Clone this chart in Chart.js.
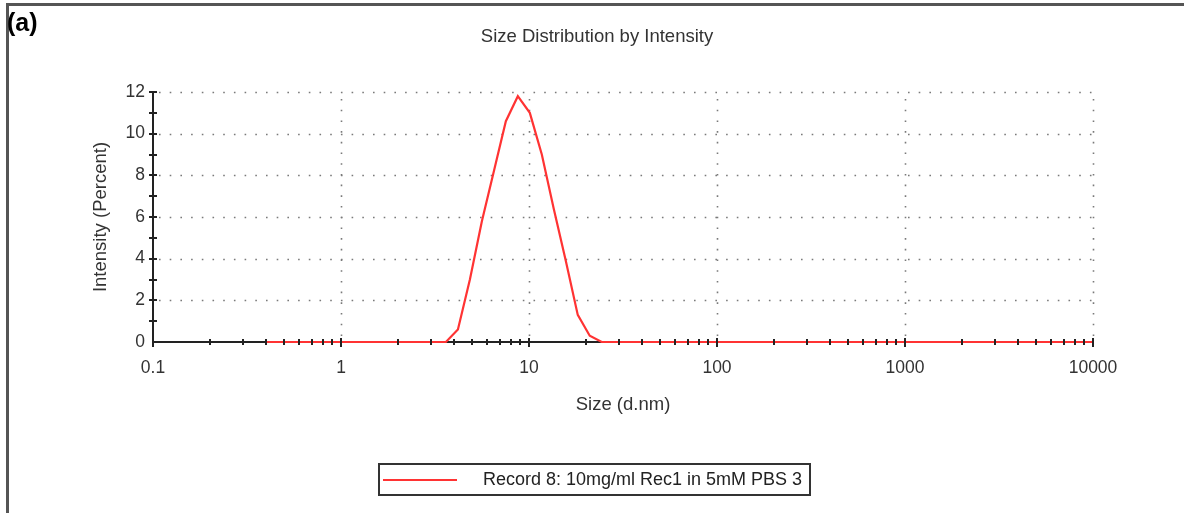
<!DOCTYPE html>
<html>
<head>
<meta charset="utf-8">
<script src="https://cdn.jsdelivr.net/npm/chart.js@4.4.1/dist/chart.umd.min.js"></script>
<style>
  body { margin: 0; background: #fff; }
  #wrap { position: relative; width: 1184px; height: 513px; overflow: hidden; }
  #frame { position: absolute; left: 6px; top: 3px; width: 1190px; height: 508px;
           border-left: 3px solid #555; border-top: 3px solid #555; border-bottom: 1px solid #e4e4e4; }
  #panel { position: absolute; left: 7px; top: 8px; font: bold 25px "Liberation Sans", Arial, sans-serif; color: #000; }
  #legend { position: absolute; left: 378px; top: 463px; width: 429px; height: 29px;
            border: 2px solid #333; font: 18px "Liberation Sans", Arial, sans-serif; color: #222; }
  #legend .swatch { position: absolute; left: 3px; top: 14px; width: 74px; height: 2px; background: #ff3333; }
  #legend .label { position: absolute; left: 103px; top: 4px; white-space: nowrap; }
  canvas { position: absolute; left: 0; top: 0; }
</style>
</head>
<body>
<div id="wrap">
  <div id="frame"></div>
  <canvas id="dls_chart" width="1184" height="513"></canvas>
  <div id="panel">(a)</div>
  <div id="legend"><div class="swatch"></div><div class="label" id="legendLabel"></div></div>
</div>
<script>
// data
const seriesLabel = 'Record 8: 10mg/ml Rec1 in 5mM PBS 3';
const sizes = [0.4, 3.615, 4.187, 4.849, 5.615, 6.503, 7.531, 8.721, 10.10, 11.70, 13.54, 15.69, 18.17, 21.04, 24.36, 10000];
const intensity = [0, 0, 0.6, 3.0, 5.8, 8.2, 10.6, 11.8, 11.0, 9.0, 6.4, 3.9, 1.3, 0.3, 0, 0];

const decades = [0.1, 1, 10, 100, 1000, 10000];
const xTickLabels = ['0.1', '1', '10', '100', '1000', '10000'];
const minorSteps = [2, 3, 4, 5, 6, 7, 8, 9];
const yTicks = [0, 2, 4, 6, 8, 10, 12];

document.getElementById('legendLabel').textContent = seriesLabel;

const isDecade = v => decades.some(d => Math.abs(d - v) / d < 1e-6);

// dotted grid + solid axes drawn before the line, tick marks after it
const axesPlugin = {
  id: 'dlsAxes',
  beforeDatasetsDraw(chart) {
    const {ctx, scales: {x, y}} = chart;
    ctx.save();
    ctx.strokeStyle = '#7a7a7a';
    ctx.lineWidth = 1.6;
    ctx.setLineDash([1.6, 9.1]);
    yTicks.filter(v => v > 0).forEach(v => {
      const py = Math.round(y.getPixelForValue(v)) + 0.5;
      ctx.beginPath(); ctx.moveTo(x.left + 6, py); ctx.lineTo(x.right, py); ctx.stroke();
    });
    decades.slice(1).forEach(v => {
      const px = Math.round(x.getPixelForValue(v)) + 0.5;
      ctx.beginPath(); ctx.moveTo(px, y.bottom - 6); ctx.lineTo(px, y.top); ctx.stroke();
    });
    ctx.setLineDash([]);
    ctx.strokeStyle = '#222';
    ctx.lineWidth = 2;
    ctx.beginPath();
    ctx.moveTo(x.left, y.top - 1); ctx.lineTo(x.left, y.bottom);
    ctx.lineTo(x.right, y.bottom);
    ctx.stroke();
    ctx.restore();
  },
  afterDatasetsDraw(chart) {
    const {ctx, scales: {x, y}} = chart;
    ctx.save();
    ctx.strokeStyle = '#222';
    ctx.lineWidth = 2;
    x.ticks.forEach(t => {
      const px = Math.round(x.getPixelForValue(t.value));
      const major = isDecade(t.value);
      ctx.beginPath();
      ctx.moveTo(px, y.bottom - (major ? 4 : 3));
      ctx.lineTo(px, y.bottom + (major ? 5 : 3));
      ctx.stroke();
    });
    for (let v = 1; v <= 12; v++) {
      const py = Math.round(y.getPixelForValue(v));
      ctx.beginPath(); ctx.moveTo(x.left - 4, py); ctx.lineTo(x.left + 4, py); ctx.stroke();
    }
    ctx.restore();
  }
};

new Chart(document.getElementById('dls_chart').getContext('2d'), {
  type: 'line',
  data: {
    datasets: [{
      label: seriesLabel,
      data: sizes.map((s, i) => ({x: s, y: intensity[i]})),
      borderColor: '#ff3333',
      borderWidth: 2.2,
      pointRadius: 0,
      tension: 0,
      fill: false,
      clip: false
    }]
  },
  options: {
    responsive: false,
    animation: false,
    layout: { padding: { left: 101, right: 91, top: 0, bottom: 0 } },
    plugins: {
      legend: { display: false },
      tooltip: { enabled: false },
      title: {
        display: true,
        text: 'Size Distribution by Intensity',
        color: '#333',
        font: { family: 'Liberation Sans', size: 18.5, weight: 'normal' },
        padding: { top: 26, bottom: 43.8 }
      }
    },
    scales: {
      x: {
        type: 'logarithmic',
        min: 0.1,
        max: 10000,
        afterBuildTicks(scale) {
          const ticks = [];
          decades.forEach((d, i) => {
            ticks.push({value: d});
            if (i < decades.length - 1) minorSteps.forEach(m => ticks.push({value: +(d * m).toPrecision(6)}));
          });
          scale.ticks = ticks;
        },
        afterFit(scale) { scale.height = 171; },
        grid: { display: false, drawTicks: false },
        border: { display: false },
        ticks: {
          autoSkip: false,
          maxRotation: 0,
          padding: 16,
          color: '#333',
          font: { family: 'Liberation Sans', size: 17.5 },
          callback: (v) => {
            const i = decades.findIndex(d => Math.abs(d - v) / d < 1e-6);
            return i >= 0 ? xTickLabels[i] : '';
          }
        },
        title: {
          display: true,
          text: 'Size (d.nm)',
          color: '#333',
          font: { family: 'Liberation Sans', size: 18.5 },
          padding: { top: 0, bottom: 97 }
        }
      },
      y: {
        min: 0,
        max: 12,
        afterBuildTicks(scale) { scale.ticks = yTicks.map(v => ({value: v})); },
        afterFit(scale) { scale.width = 52; },
        grid: { display: false, drawTicks: false },
        border: { display: false },
        ticks: {
          autoSkip: false,
          padding: 8,
          color: '#333',
          font: { family: 'Liberation Sans', size: 17.5 }
        },
        title: {
          display: true,
          text: 'Intensity (Percent)',
          color: '#333',
          font: { family: 'Liberation Sans', size: 18.5 },
          padding: { top: -11, bottom: 0 }
        }
      }
    }
  },
  plugins: [axesPlugin]
});
</script>
</body>
</html>
